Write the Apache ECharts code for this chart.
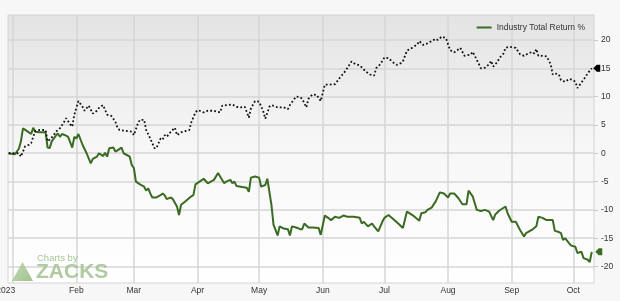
<!DOCTYPE html>
<html>
<head>
<meta charset="utf-8">
<script src="https://cdn.jsdelivr.net/npm/echarts@6/dist/echarts.min.js"></script>
<style>
html,body{margin:0;padding:0;background:#f7f7f7;}
#chart{width:620px;height:301px;}
</style>
</head>
<body>
<div id="chart"></div>
<script>
// ---- Data ----
const industryDates = ['2022-12-30','2023-01-02','2023-01-04','2023-01-05','2023-01-06','2023-01-08','2023-01-10','2023-01-11','2023-01-12','2023-01-14','2023-01-17','2023-01-18','2023-01-19','2023-01-20','2023-01-22','2023-01-23','2023-01-24','2023-01-25','2023-01-27','2023-01-28','2023-01-30','2023-01-31','2023-02-01','2023-02-02','2023-02-04','2023-02-06','2023-02-08','2023-02-09','2023-02-11','2023-02-12','2023-02-14','2023-02-15','2023-02-16','2023-02-17','2023-02-19','2023-02-20','2023-02-21','2023-02-23','2023-02-24','2023-02-27','2023-02-28','2023-03-01','2023-03-02','2023-03-04','2023-03-06','2023-03-07','2023-03-08','2023-03-09','2023-03-10','2023-03-12','2023-03-14','2023-03-15','2023-03-16','2023-03-17','2023-03-19','2023-03-20','2023-03-22','2023-03-23','2023-03-24','2023-03-26','2023-03-28','2023-03-29','2023-03-30','2023-03-31','2023-04-02','2023-04-04','2023-04-06','2023-04-09','2023-04-11','2023-04-12','2023-04-14','2023-04-15','2023-04-17','2023-04-18','2023-04-19','2023-04-20','2023-04-22','2023-04-25','2023-04-26','2023-04-27','2023-04-29','2023-05-01','2023-05-02','2023-05-04','2023-05-05','2023-05-07','2023-05-08','2023-05-10','2023-05-11','2023-05-13','2023-05-15','2023-05-16','2023-05-17','2023-05-19','2023-05-21','2023-05-22','2023-05-23','2023-05-25','2023-05-27','2023-05-30','2023-05-31','2023-06-02','2023-06-04','2023-06-05','2023-06-07','2023-06-09','2023-06-11','2023-06-13','2023-06-16','2023-06-19','2023-06-20','2023-06-21','2023-06-23','2023-06-25','2023-06-26','2023-06-28','2023-06-30','2023-07-01','2023-07-03','2023-07-05','2023-07-08','2023-07-10','2023-07-12','2023-07-15','2023-07-18','2023-07-19','2023-07-21','2023-07-22','2023-07-24','2023-07-26','2023-07-28','2023-07-30','2023-08-01','2023-08-02','2023-08-04','2023-08-06','2023-08-08','2023-08-10','2023-08-11','2023-08-13','2023-08-15','2023-08-17','2023-08-19','2023-08-21','2023-08-23','2023-08-24','2023-08-26','2023-08-29','2023-08-30','2023-09-01','2023-09-03','2023-09-05','2023-09-07','2023-09-08','2023-09-11','2023-09-13','2023-09-14','2023-09-16','2023-09-18','2023-09-21','2023-09-22','2023-09-24','2023-09-25','2023-09-26','2023-09-27','2023-09-29','2023-09-30','2023-10-02','2023-10-03','2023-10-05','2023-10-06','2023-10-08','2023-10-09','2023-10-10'];
const industryReturn = [0,-0.2,0.8,2.1,4.4,3.9,3.4,4.5,3.8,3.7,3.7,1.0,0.9,2.1,3.1,3.5,2.9,3.4,3.1,2.9,1.0,2.9,2.6,3.4,1.5,0,-1.8,-1.0,-0.6,0,-0.5,0.1,-0.6,0.9,1.0,0.3,0.5,1.0,0,-0.6,-2.1,-2.6,-5.0,-5.5,-5.9,-6.6,-6.2,-7.1,-7.8,-7.8,-7.4,-7.1,-7.4,-8.1,-7.8,-8.1,-9.4,-10.9,-9.1,-8.5,-7.9,-7.6,-7.4,-5.5,-5.0,-4.5,-5.3,-4.7,-3.5,-4.1,-5.3,-5.0,-4.7,-5.3,-5.0,-5.8,-5.9,-6.1,-6.8,-4.3,-4.1,-4.3,-5.9,-5.6,-4.5,-9.1,-12.6,-14.5,-12.9,-13.3,-13.4,-14.5,-12.9,-13.1,-13.4,-13.4,-12.4,-13.1,-13.1,-13.2,-14.4,-11.0,-11.5,-11.8,-11.2,-11.4,-11.0,-11.2,-11.2,-11.4,-12.4,-12.1,-12.9,-12.4,-12.9,-13.8,-12.1,-11.4,-10.9,-11.5,-12.5,-13.2,-10.3,-11.0,-11.9,-10.6,-10.4,-10.0,-9.6,-8.5,-6.9,-7.1,-7.8,-7.1,-7.1,-7.9,-9.0,-9.0,-6.6,-7.6,-10.0,-10.2,-10.0,-10.3,-11.8,-10.8,-10.1,-9.4,-10.6,-12.1,-12.1,-13.5,-14.7,-14.1,-13.5,-12.9,-11.2,-11.4,-11.8,-11.8,-13.7,-13.9,-14.1,-15.3,-15.0,-15.9,-16.3,-16.5,-17.6,-17.4,-18.5,-18.8,-19.2,-17.4];

const stockDates = ['2022-12-30','2023-01-02','2023-01-04','2023-01-05','2023-01-06','2023-01-07','2023-01-09','2023-01-10','2023-01-11','2023-01-12','2023-01-14','2023-01-15','2023-01-17','2023-01-18','2023-01-19','2023-01-21','2023-01-22','2023-01-24','2023-01-26','2023-01-27','2023-01-29','2023-01-30','2023-01-31','2023-02-02','2023-02-04','2023-02-05','2023-02-07','2023-02-09','2023-02-11','2023-02-12','2023-02-14','2023-02-16','2023-02-18','2023-02-20','2023-02-21','2023-02-22','2023-02-26','2023-02-28','2023-03-01','2023-03-03','2023-03-04','2023-03-06','2023-03-07','2023-03-09','2023-03-11','2023-03-12','2023-03-14','2023-03-15','2023-03-16','2023-03-17','2023-03-19','2023-03-21','2023-03-22','2023-03-24','2023-03-26','2023-03-28','2023-03-29','2023-03-31','2023-04-01','2023-04-02','2023-04-04','2023-04-06','2023-04-09','2023-04-12','2023-04-13','2023-04-15','2023-04-18','2023-04-20','2023-04-22','2023-04-24','2023-04-26','2023-04-27','2023-04-29','2023-05-01','2023-05-03','2023-05-04','2023-05-06','2023-05-07','2023-05-10','2023-05-13','2023-05-15','2023-05-16','2023-05-19','2023-05-21','2023-05-22','2023-05-24','2023-05-25','2023-05-27','2023-05-29','2023-05-31','2023-06-02','2023-06-04','2023-06-07','2023-06-09','2023-06-12','2023-06-15','2023-06-17','2023-06-19','2023-06-22','2023-06-24','2023-06-26','2023-06-27','2023-06-29','2023-07-01','2023-07-03','2023-07-05','2023-07-07','2023-07-09','2023-07-10','2023-07-12','2023-07-14','2023-07-17','2023-07-18','2023-07-20','2023-07-22','2023-07-24','2023-07-26','2023-07-27','2023-07-29','2023-07-31','2023-08-02','2023-08-04','2023-08-07','2023-08-09','2023-08-12','2023-08-13','2023-08-15','2023-08-17','2023-08-19','2023-08-21','2023-08-22','2023-08-23','2023-08-25','2023-08-26','2023-08-28','2023-08-29','2023-08-31','2023-09-03','2023-09-05','2023-09-07','2023-09-09','2023-09-11','2023-09-12','2023-09-13','2023-09-14','2023-09-16','2023-09-18','2023-09-20','2023-09-21','2023-09-22','2023-09-24','2023-09-25','2023-09-27','2023-09-29','2023-10-01','2023-10-02','2023-10-03','2023-10-05','2023-10-07','2023-10-08','2023-10-10'];
const stockReturn = [0,0,0,-0.6,0.3,1.2,1.5,1.8,2.9,3.9,4.1,4.1,4.1,2.1,2.4,3.2,3.8,4.4,5.5,6.2,5.1,4.7,6.8,9.2,8.2,7.5,8.4,7.0,7.5,8.0,8.5,6.8,6.6,5.6,4.5,4.1,3.9,3.8,3.2,5.3,5.9,5.9,4.1,2.6,0.9,0.9,2.6,2.4,3.2,2.9,3.8,4.5,3.2,3.7,3.9,4.1,5.5,7.2,7.6,7.5,7.2,7.5,7.5,7.2,8.4,8.5,8.6,8.2,8.1,8.2,6.3,7.9,9.2,9.1,7.4,6.1,8.2,8.5,8.1,8.1,7.8,8.5,10.0,9.9,9.6,8.1,9.6,10.4,10.3,9.2,12.1,12.1,12.2,13.2,14.5,16.2,15.7,15.5,14.4,13.9,13.7,15.0,15.7,16.9,16.8,16.1,15.6,15.9,16.2,18.1,18.5,19.2,19.8,19.1,19.4,19.8,20.2,20.0,20.6,20.3,18.2,17.8,18.6,17.2,17.4,17.9,16.5,15.0,15.1,15.7,16.3,15.3,16.1,16.8,17.6,18.6,18.8,18.6,17.5,17.2,17.6,17.9,17.6,18.4,17.2,17.2,17.1,15.7,13.9,14.1,13.9,12.9,12.6,13.1,12.9,12.6,11.5,12.5,13.5,14.1,15.0];

const monthTickDates = ['2023-01-01','2023-02-01','2023-03-01','2023-04-01','2023-05-01','2023-06-01','2023-07-01','2023-08-01','2023-09-01','2023-10-01'];
const monthTickLabels = ['2023','Feb','Mar','Apr','May','Jun','Jul','Aug','Sep','Oct'];
const yTicks = [-20,-15,-10,-5,0,5,10,15,20];
const legendName = 'Industry Total Return %';

// ---- Helpers ----
function toTime(s) {
  const p = s.split('-').map(Number);
  return Date.UTC(p[0], p[1] - 1, p[2]);
}
const monthTicks = monthTickDates.map(toTime);
const industryData = industryDates.map((d, i) => [toTime(d), industryReturn[i]]);
const stockData = stockDates.map((d, i) => [toTime(d), stockReturn[i]]);
const xMin = toTime('2022-12-29') + 17 * 3600000;
const xMax = toTime('2023-10-11') + 2 * 3600000;

const FONT = '"Liberation Sans", Arial, sans-serif';
const endMarker = 'path://M0,5L5,0L10,0L10,10L5,10Z';

const chart = echarts.init(document.getElementById('chart'), null, {renderer: 'canvas'});
chart.setOption({
  animation: false,
  backgroundColor: '#f7f7f7',
  grid: {
    left: 8, right: 26, top: 15, bottom: 18,
    outerBoundsMode: 'none',
    containLabel: false,
    show: true,
    borderColor: '#d4d4d4',
    borderWidth: 1,
    backgroundColor: new echarts.graphic.LinearGradient(0, 0, 0, 1, [
      {offset: 0, color: '#e3e3e3'},
      {offset: 0.5, color: '#f7f7f7'},
      {offset: 1, color: '#ffffff'}
    ])
  },
  legend: {
    data: [legendName],
    right: 30, top: 18,
    icon: 'rect', itemWidth: 15, itemHeight: 2, itemGap: 4,
    textStyle: {fontSize: 8.5, color: '#333', fontFamily: FONT}
  },
  xAxis: {
    type: 'value',
    min: xMin, max: xMax,
    axisLine: {show: false},
    axisTick: {show: false, customValues: monthTicks},
    splitLine: {show: true, lineStyle: {color: '#d6d6d6', width: 1.5}},
    axisLabel: {
      customValues: monthTicks,
      margin: 3,
      fontSize: 8.5, color: '#333', fontFamily: FONT,
      hideOverlap: false,
      formatter: function (val) {
        const i = monthTicks.indexOf(val);
        const t = i >= 0 ? monthTickLabels[i] : '';
        return i === 0 ? '{y|' + t + '}' : t;
      },
      rich: {y: {fontSize: 8.5, color: '#333', fontFamily: FONT, padding: [0, 14, 0, 0]}}
    }
  },
  yAxis: {
    type: 'value',
    position: 'right',
    min: -22.9, max: 24.4,
    axisLine: {show: false},
    axisTick: {show: true, length: 4, customValues: yTicks, lineStyle: {color: '#c8c8c8'}},
    axisLabel: {customValues: yTicks, margin: 7, fontSize: 8.5, color: '#333', fontFamily: FONT},
    splitLine: {show: true, lineStyle: {color: '#d6d6d6', width: 1.5}}
  },
  graphic: [
    {type: 'polygon', left: 12, top: 262, shape: {points: [[10.5, 0], [21, 19], [0, 19]]},
      style: {fill: new echarts.graphic.LinearGradient(0, 0, 1, 1, [
        {offset: 0, color: '#b9d3a9'}, {offset: 1, color: '#8fb77a'}]), opacity: 0.85}, z: 1},
    {type: 'text', left: 37, top: 253, style: {text: 'Charts by', fill: '#9fbf8d', font: '9.5px ' + FONT, opacity: 0.9}, z: 1},
    {type: 'text', left: 36, top: 262, style: {text: 'ZACKS', fill: '#a2c191', font: 'bold 21px ' + FONT, opacity: 0.85}, z: 1}
  ],
  series: [
    {
      name: legendName,
      type: 'line',
      data: industryData,
      showSymbol: false,
      color: '#3b6b22',
      lineStyle: {width: 2, color: '#3b6b22'},
      z: 3,
      markPoint: {
        symbol: endMarker, symbolSize: [7, 7], symbolOffset: [7, 0],
        itemStyle: {color: '#3b6b22'}, label: {show: false},
        data: [{coord: industryData[industryData.length - 1]}]
      }
    },
    {
      name: 'Price',
      type: 'line',
      data: stockData,
      showSymbol: false,
      clip: false,
      lineStyle: {width: 1.8, color: '#111', type: [1.8, 2.2]},
      z: 4,
      markPoint: {
        symbol: endMarker, symbolSize: [7, 7], symbolOffset: [5, 0],
        itemStyle: {color: '#000'}, label: {show: false},
        data: [{coord: stockData[stockData.length - 1]}]
      }
    }
  ]
});
</script>
</body>
</html>
